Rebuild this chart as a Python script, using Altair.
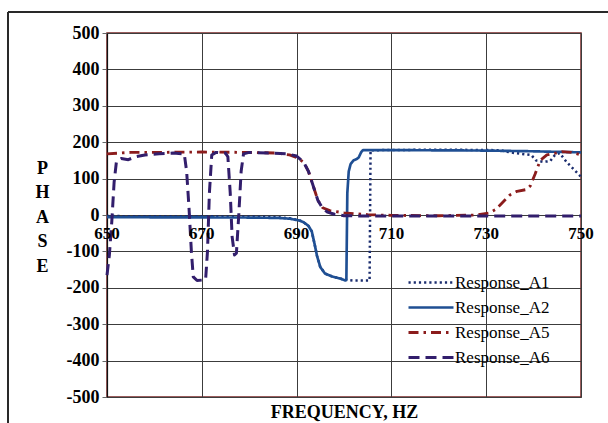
import altair as alt
import pandas as pd

# Phase response curves (frequency in Hz, phase in degrees)
a1_freq = [650, 680, 686, 688.5, 690.5, 691.5, 692.5, 693.2, 693.8, 694.3, 695, 696, 697.5, 699,
           700.4, 702, 705.4, 705.6, 715, 725, 733, 735, 737.5, 739.5, 740.5, 742, 743.5, 744.5,
           745.5, 747, 750]
a1_phase = [-3, -4, -6, -9, -14, -20, -30, -45, -80, -112, -143, -161, -169, -174,
            -178, -180, -180, 178, 179, 179, 178, 172, 168, 165, 150, 146, 148, 165,
            170, 145, 105]

a2_freq = [650, 680, 686, 688.5, 690.5, 691.5, 692.5, 693.2, 693.8, 694.3, 695, 696, 697.5, 699,
           700.3, 700.5, 700.7, 701.0, 701.4, 702, 702.6, 703.1, 703.6, 704, 715, 730, 740, 750]
a2_phase = [-6, -7, -8, -10, -15, -20, -30, -45, -80, -112, -143, -161, -169, -174,
            -180, -178, 60, 120, 140, 150, 153, 158, 172, 178, 178, 177, 175, 172]

a5_freq = [650, 655, 660, 670, 680, 686, 688.5, 690, 691.5, 692.5, 693.5, 694.5, 695.5, 697,
           700, 705, 710, 720, 728, 730.5, 732, 733.5, 735, 736.5, 738.5, 739.3, 740.3, 741.4,
           742.8, 746, 748, 750]
a5_phase = [168, 172, 172, 173, 172, 170, 165, 158, 145, 120, 80, 40, 20, 12,
            6, 1, -1, -2, 0, 5, 15, 35, 55, 65, 70, 80, 112, 150,
            165, 174, 172, 165]

a6_freq = [650, 650.5, 651, 651.5, 652, 653, 654.5, 656, 658, 661, 664, 666.3, 666.8, 667.3,
           667.8, 668.2, 669, 670.8, 671.2, 671.6, 672.1, 673, 675, 675.5, 676, 676.4, 676.9,
           677.3, 677.8, 678.3, 678.8, 680, 684, 688, 690, 691.5, 692.5, 693.5, 694.5, 695.5,
           696.5, 698, 700, 705, 720, 750]
a6_phase = [-165, -110, -20, 90, 148, 155, 152, 160, 165, 168, 170, 168, 120, 20,
            -100, -170, -180, -178, -100, 60, 165, 172, 170, 160, 60, -60, -110,
            -105, 0, 120, 168, 172, 170, 168, 162, 145, 120, 80, 40, 18,
            8, 2, -2, -3, -3, -3]

series_names = ["Response_A1", "Response_A2", "Response_A5", "Response_A6"]
series_colors = ["#1a2c6e", "#1f4f93", "#8b1c1c", "#321e6c"]
series_dashes = [[2.2, 3.0], [1, 0], [10, 5, 2.5, 5], [11, 6]]
series_widths = [2.5, 3, 2.5, 3.5]

x_tick_labels = [650, 670, 690, 710, 730, 750]
y_ticks = list(range(-500, 501, 100))

rows = []
for name, fs, ps in zip(series_names,
                        [a1_freq, a2_freq, a5_freq, a6_freq],
                        [a1_phase, a2_phase, a5_phase, a6_phase]):
    for i, (f, p) in enumerate(zip(fs, ps)):
        rows.append({"series": name, "freq": f, "phase": p, "idx": i})
df = pd.DataFrame(rows)
ticks_df = pd.DataFrame({"freq": x_tick_labels, "phase": [0] * len(x_tick_labels)})

FONT = "Liberation Serif"

x_scale = alt.Scale(domain=[650, 750], nice=False, zero=False)
y_scale = alt.Scale(domain=[-500, 500], nice=False)

lines = alt.Chart(df).mark_line(strokeCap="butt", strokeJoin="round").encode(
    x=alt.X("freq:Q", scale=x_scale,
            axis=alt.Axis(values=x_tick_labels, tickCount=len(x_tick_labels),
                          grid=True, labels=False, ticks=False,
                          domain=False, title="FREQUENCY, HZ", titleFont=FONT,
                          titleFontSize=18, titleFontWeight="bold", titleColor="black",
                          titlePadding=6)),
    y=alt.Y("phase:Q", scale=y_scale,
            axis=alt.Axis(values=y_ticks, tickCount=len(y_ticks), grid=True,
                          labelOverlap=False,
                          labelExpr="'' + datum.value",
                          labelFont=FONT, labelFontSize=18,
                          labelFontWeight="bold", labelColor="black", tickSize=5,
                          tickColor="#666666", labelPadding=3, domainColor="#111111",
                          domainWidth=1.2,
                          title=["P", "H", "A", "S", "E"], titleAngle=0, titleFont=FONT,
                          titleFontSize=18, titleFontWeight="bold", titleColor="black",
                          titleX=-65, titleY=126, titleAlign="center",
                          titleBaseline="top", titleLineHeight=24.5)),
    color=alt.Color("series:N",
                    scale=alt.Scale(domain=series_names, range=series_colors),
                    legend=alt.Legend(title=None, orient="none", legendX=300, legendY=237,
                                      symbolType="stroke", symbolSize=2025,
                                      labelFont=FONT, labelFontSize=17, labelColor="black",
                                      clipHeight=25, rowPadding=0, padding=0,
                                      labelOffset=0)),
    strokeDash=alt.StrokeDash("series:N",
                              scale=alt.Scale(domain=series_names, range=series_dashes),
                              legend=None),
    strokeWidth=alt.StrokeWidth("series:N",
                                scale=alt.Scale(domain=series_names, range=series_widths),
                                legend=None),
    order="idx:Q",
)

tick_text = alt.Chart(ticks_df).mark_text(
    font=FONT, fontSize=17, fontWeight="bold", color="black",
    baseline="alphabetic", dy=24
).encode(
    x=alt.X("freq:Q", scale=x_scale),
    y=alt.Y("phase:Q", scale=y_scale),
    text=alt.Text("freq:Q", format="d"),
)

# Outer frame lines (top and left edge of the figure)
frame_top = alt.Chart(ticks_df).mark_rule(color="#2a2a2a", strokeWidth=1.5).encode(
    x=alt.value(-99), x2=alt.value(510), y=alt.value(-21))
frame_left = alt.Chart(ticks_df).mark_rule(color="#2a2a2a", strokeWidth=1.5).encode(
    x=alt.value(-99), y=alt.value(-21), y2=alt.value(400))

chart = alt.layer(lines, tick_text, frame_top, frame_left).properties(
    width=474, height=364,
    autosize=alt.AutoSizeParams(type="none"),
    padding={"left": 107, "top": 33, "right": 27, "bottom": 26},
    background="white",
).configure_view(
    stroke="#7a2828", strokeWidth=1.5
).configure_axis(
    gridColor="#3c3c3c", gridWidth=1, gridOpacity=1
)

chart.save("out.html", embed_options={"renderer": "svg", "actions": False})
